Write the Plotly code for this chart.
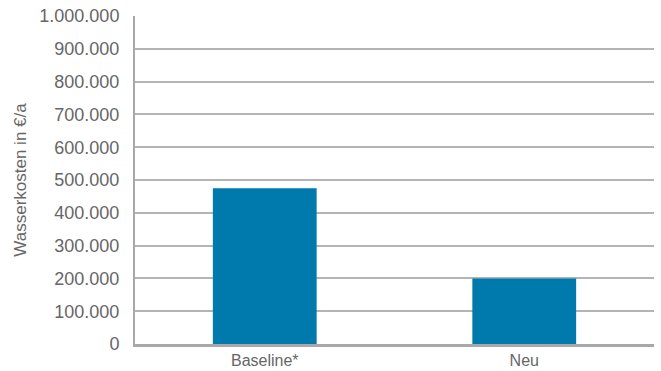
import plotly.graph_objects as go

categories = ["Baseline*", "Neu"]
kosten = [475000, 200000]
tick_vals = [0, 100000, 200000, 300000, 400000, 500000, 600000, 700000, 800000, 900000, 1000000]

fig = go.Figure(
    go.Bar(
        x=categories,
        y=kosten,
        marker=dict(color="#0079ad", line=dict(width=0)),
        width=0.4,
    )
)

font_fam = "Liberation Sans, Arial, sans-serif"
text_col = "#666666"
fig.update_layout(
    width=661,
    height=371,
    margin=dict(l=135, r=7, t=16, b=27, autoexpand=False),
    paper_bgcolor="white",
    plot_bgcolor="white",
    separators=",.",
    showlegend=False,
    font=dict(family=font_fam, size=18, color=text_col),
)
fig.update_yaxes(
    range=[0, 1000000],
    tickvals=tick_vals,
    tickformat=",d",
    showgrid=True,
    gridcolor="#b4b4b4",
    gridwidth=1.5,
    showline=True,
    linecolor="#a8a8a8",
    linewidth=2,
    ticks="",
    ticklabelstandoff=10,
    zeroline=False,
    automargin=False,
    tickfont=dict(size=18, color=text_col),
    title=dict(text="Wasserkosten in €/a", standoff=8, font=dict(size=17, color=text_col)),
)
fig.update_xaxes(
    showline=True,
    linecolor="#a8a8a8",
    linewidth=2.5,
    ticks="",
    automargin=False,
    tickfont=dict(size=16, color=text_col),
)

fig.write_html("out.html")
